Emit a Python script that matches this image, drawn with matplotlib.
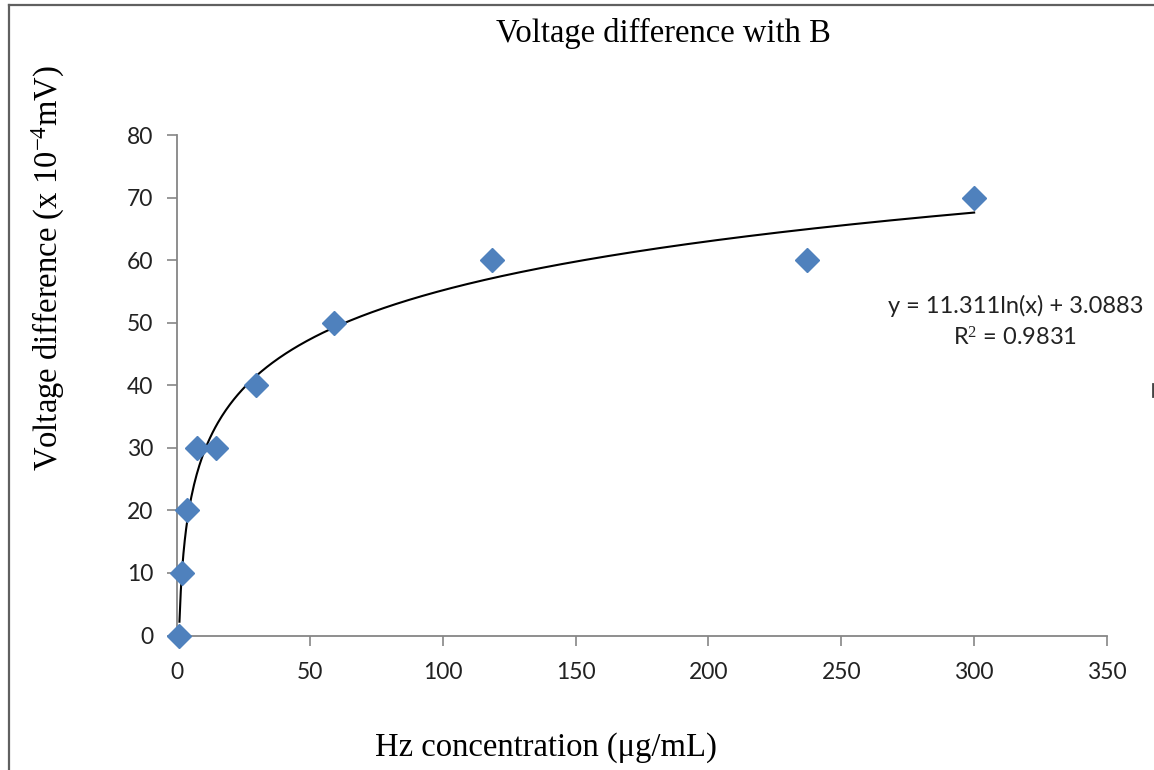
import numpy as np
import matplotlib
matplotlib.use("Agg")
import matplotlib.pyplot as plt
from matplotlib.lines import Line2D

# Data
conc = [0.925, 1.85, 3.7, 7.4, 14.8, 29.6, 59.2, 118.5, 237, 300]
volt = [0, 10, 20, 30, 30, 40, 50, 60, 60, 70]
fit_a, fit_b = 11.311, 3.0883
x_ticks = [0, 50, 100, 150, 200, 250, 300, 350]
y_ticks = [0, 10, 20, 30, 40, 50, 60, 70, 80]

plt.rcParams['mathtext.fontset'] = 'custom'
plt.rcParams['mathtext.rm'] = 'Liberation Serif'
plt.rcParams['mathtext.it'] = 'Liberation Serif'

W, H = 1154, 770
fig = plt.figure(figsize=(W / 100, H / 100), dpi=100)
ax = fig.add_axes([177 / W, 1 - 635.5 / H, (1107 - 177) / W, (635.5 - 135) / H])

xf = np.linspace(min(conc), max(conc), 600)
ax.plot(xf, fit_a * np.log(xf) + fit_b, color='black', lw=1.5, zorder=2)
ax.plot(conc, volt, linestyle='none', marker='D', markersize=12,
        color='#4F81BD', markeredgecolor='#4F81BD', zorder=3, clip_on=False)

ax.set_xlim(0, 350)
ax.set_ylim(0, 80)
ax.set_xticks(x_ticks)
ax.set_yticks(y_ticks)
for s in ['top', 'right']:
    ax.spines[s].set_visible(False)
for s in ['left', 'bottom']:
    ax.spines[s].set_color('#868686')
    ax.spines[s].set_linewidth(1.3)
ax.tick_params(direction='out', length=7, width=1.2, color='#868686',
               labelcolor='#222222', labelsize=16.5)
ax.tick_params(axis='x', pad=12)
ax.tick_params(axis='y', pad=10)
for lab in ax.get_xticklabels() + ax.get_yticklabels():
    lab.set_fontfamily('Lato')

serif = 'Liberation Serif'
fig.text(663 / W, 1 - 33 / H, 'Voltage difference with B', ha='center', va='center',
         fontsize=23.5, family=serif)
fig.text(546 / W, 1 - 748 / H, 'Hz concentration (μg/mL)', ha='center', va='center',
         fontsize=23.5, family=serif)
fig.text(48 / W, 1 - 268 / H, r'Voltage difference (x 10$^{-4}$mV)', ha='center', va='center',
         rotation=90, fontsize=23.5, family=serif)

ax.text(1016 / W, 1 - 306 / H, f'y = {fit_a}ln(x) + {fit_b}', transform=fig.transFigure,
        ha='center', va='center', fontsize=17, family='Lato', color='#222222')
ax.text(1015 / W, 1 - 338 / H, 'R$^{2}$ = 0.9831', transform=fig.transFigure,
        ha='center', va='center', fontsize=17, family='Lato', color='#222222')

# border lines of the original picture
fig.add_artist(Line2D([8.5 / W, 8.5 / W], [0, 1 - 4.5 / H], color='#606060', lw=1.6))
fig.add_artist(Line2D([8.5 / W, 1], [1 - 4.5 / H, 1 - 4.5 / H], color='#606060', lw=1.6))
fig.add_artist(Line2D([1152.5 / W, 1152.5 / W], [1 - 396 / H, 1 - 384 / H], color='#444444', lw=2))

fig.savefig('out.png', dpi=100)
